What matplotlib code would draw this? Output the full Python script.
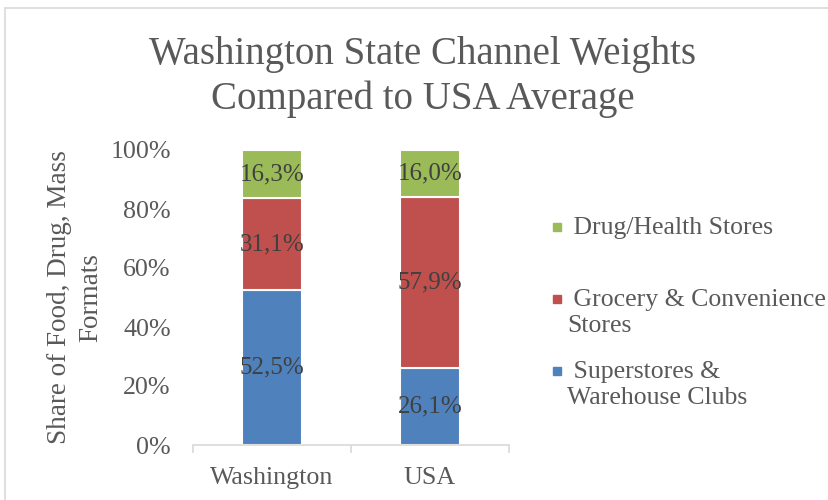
import numpy as np
import matplotlib.pyplot as plt
from matplotlib.patches import Rectangle

plt.rcParams['font.family'] = ['Liberation Serif', 'DejaVu Serif']

# Data
regions = ['Washington', 'USA']
series = ['Superstores & Warehouse Clubs', 'Grocery & Convenience Stores', 'Drug/Health Stores']
legend_labels = [' Superstores &\nWarehouse Clubs', ' Grocery & Convenience\nStores', ' Drug/Health Stores']
superstores = [52.5, 26.1]
grocery = [31.1, 57.9]
drug = [16.3, 16.0]
colors = ['#4F81BD', '#C0504D', '#9BBB59']

fig = plt.figure(figsize=(8.29, 5.0), dpi=100)
ax = fig.add_axes([193 / 829, 55 / 500, 316 / 829, 295 / 500])

x = np.arange(len(regions))
bottom = np.zeros(len(regions))
for vals, col in zip([superstores, grocery, drug], colors):
    vals = np.array(vals)
    ax.bar(x, vals, width=0.375, bottom=bottom, color=col, edgecolor='white', linewidth=1.5)
    for xi, b, v in zip(x, bottom, vals):
        ax.text(xi, b + v / 2, f"{v:.1f}%".replace('.', ','), ha='center', va='center',
                fontsize=18, color='#404040')
    bottom += vals

ax.set_xlim(-0.5, 1.5)
ax.set_ylim(0, 100)
ax.set_yticks(np.arange(0, 101, 20))
ax.set_yticklabels([f"{t}%" for t in range(0, 101, 20)])
ax.set_xticks(x)
ax.set_xticklabels(regions)
ax.set_xticks([-0.5, 0.5, 1.5], minor=True)

for s in ['top', 'right', 'left']:
    ax.spines[s].set_visible(False)
ax.spines['bottom'].set_color('#D9D9D9')
ax.spines['bottom'].set_linewidth(1.2)
ax.tick_params(axis='y', length=0, pad=16, labelsize=18.7, labelcolor='#595959')
ax.tick_params(axis='x', which='major', length=0, pad=16, labelsize=18.7, labelcolor='#595959')
ax.tick_params(axis='x', which='minor', length=6, color='#D9D9D9', width=1.2)

ax.set_ylabel("Share of Food, Drug, Mass\nFormats", fontsize=19.5, color='#595959', linespacing=1.3)
ax.yaxis.set_label_coords(-90 / 316, 0.5)

fig.text(0.51, 0.846, "Washington State Channel Weights\nCompared to USA Average",
         ha='center', va='center', fontsize=28, color='#595959', linespacing=1.25)

# Legend (top to bottom: drug, grocery, superstores)
legend_y = [227, 299, 371]
for lab, col, yy in zip(legend_labels[::-1], colors[::-1], legend_y):
    fig.patches.append(Rectangle(((557 - 4) / 829, 1 - (yy + 4) / 500), 8 / 829, 8 / 500,
                                 transform=fig.transFigure, color=col))
    fig.text(567 / 829, 1 - (yy - 10) / 500, lab, ha='left', va='top', fontsize=18.5,
             color='#595959', linespacing=1.22)

# Chart border
fig.patches.append(Rectangle((5 / 829, -0.1), 1.1, 1.1 - 8 / 500, transform=fig.transFigure,
                             fill=False, edgecolor='#D9D9D9', linewidth=1.2))

fig.savefig('out.png', dpi=100)
